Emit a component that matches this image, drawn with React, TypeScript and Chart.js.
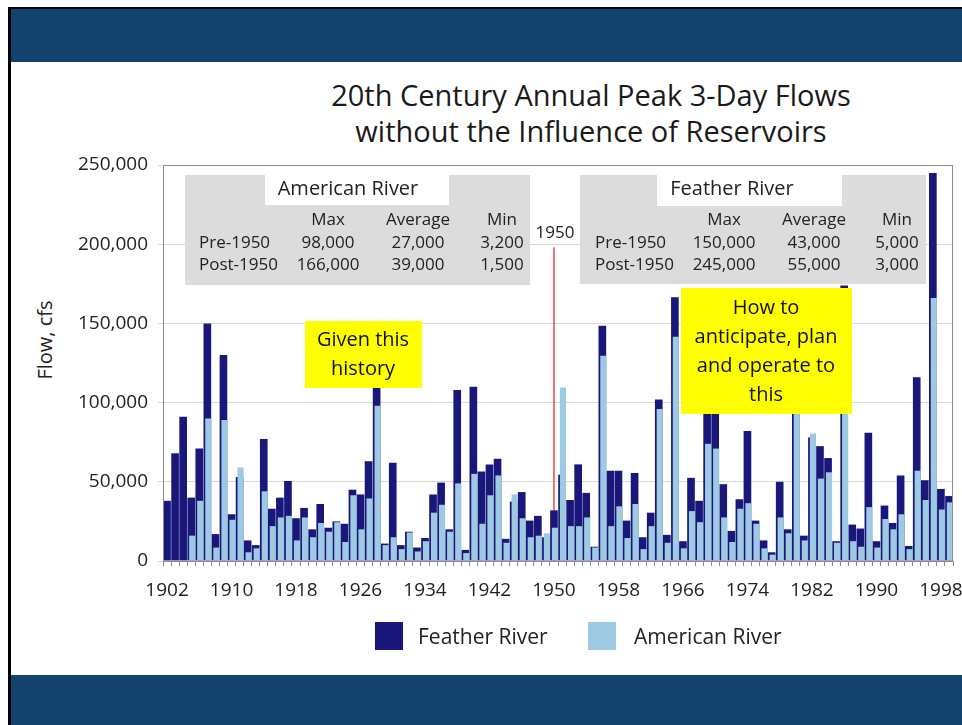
import React, { useEffect, useRef } from "react";
import { Chart, registerables } from "chart.js";

Chart.register(...registerables);

// Water years 1902–1999, one bar slot per year
const years: string[] = Array.from({ length: 98 }, (_, i) => String(1902 + i));

// Annual peak 3-day flows (cfs), unregulated
const featherFlow: number[] = [
  38000, 68000, 91000, 40000, 71000, 150000, 17000, 130000, 29500, 53000,
  13000, 10000, 77000, 33000, 40000, 50500, 27000, 33500, 20000, 36000,
  21000, 25000, 23500, 45000, 42000, 63000, 112000, 11000, 62000, 10000,
  18500, 8500, 14500, 42000, 49500, 20000, 108000, 7000, 110000, 56500,
  61000, 64500, 14000, 37500, 43500, 25500, 28500, 15000, 32000, 54500,
  38500, 61000, 43000, 9000, 148500, 57000, 57000, 25500, 55500, 15000,
  30500, 102000, 16500, 166500, 12500, 52500, 38000, 110000, 118000, 48500,
  19000, 39000, 82000, 25500, 13000, 5500, 50000, 20000, 115000, 16000,
  78000, 72500, 65000, 12500, 174000, 23000, 20500, 81000, 12500, 35000,
  24000, 54000, 9500, 116000, 51000, 245000, 45500, 41000,
];

const americanFlow: (number | null)[] = [
  null, null, null, 16000, 38000, 90000, 8500, 89000, 26000, 59000,
  5500, 8000, 44000, 22000, 27500, 28500, 13000, 27500, 15000, 24000,
  18500, 24500, 12000, 41500, 20000, 39500, 98000, 10000, 15000, 7500,
  18000, 6000, 12500, 30500, 35500, 18500, 49000, 5000, 55000, 23500,
  41500, 54000, 11500, 42000, 27000, 15000, 16000, 17500, 21000, 109500,
  22000, 22000, 27500, 8500, 129500, 22000, 34500, 14500, 36000, 7500,
  22000, 96000, 11500, 141500, 8000, 31500, 24500, 74000, 71000, 27500,
  12000, 33000, 36500, 23500, 8000, 4000, 27500, 17500, 100000, 13000,
  80500, 52000, 56000, 11500, 125000, 12500, 9000, 34000, 8500, 26500,
  20000, 29500, 7500, 57000, 38500, 166000, 32500, 37000,
];

const yTicks: number[] = [0, 50000, 100000, 150000, 200000, 250000];
const labelEvery = 8;

// Marker for the 1950 split
const markerYear = "1950";
const markerTop = 198000;

// Summary statistics shown in the two tables
const statHeaders: string[] = ["Max", "Average", "Min"];
const periodLabels: string[] = ["Pre-1950", "Post-1950"];
const americanPre: string[] = ["98,000", "27,000", "3,200"];
const americanPost: string[] = ["166,000", "39,000", "1,500"];
const featherPre: string[] = ["150,000", "43,000", "5,000"];
const featherPost: string[] = ["245,000", "55,000", "3,000"];

const noteLeft: string[] = ["Given this", "history"];
const noteRight: string[] = ["How to", "anticipate, plan", "and operate to", "this"];

const FONT = '"Open Sans", "DejaVu Sans", sans-serif';
const FEATHER = "#19187a";
const AMERICAN = "#9dc9e3";
const GRID = "#d9d9d9";
const FRAME = "#8c8c8c";
const TEXT = "#222222";
const BAND = "#12436f";
const LIGHT_SHIFT = 0.12;

type Table = {
  title: string;
  box: [number, number, number, number];
  titleBox: [number, number, number, number];
  titleX: number;
  rowX: number;
  colX: number[];
  pre: string[];
  post: string[];
};

const tables: Table[] = [
  {
    title: "American River",
    box: [22, 10, 345, 110],
    titleBox: [102, 10, 184, 30],
    titleX: 185,
    rowX: 36,
    colX: [165, 255, 339],
    pre: americanPre,
    post: americanPost,
  },
  {
    title: "Feather River",
    box: [417, 10, 346, 109],
    titleBox: [494, 10, 185, 31],
    titleX: 569,
    rowX: 432,
    colX: [561, 651, 734],
    pre: featherPre,
    post: featherPost,
  },
];

const notes = [
  { lines: noteLeft, box: [142, 156, 117, 67], cx: 200, y0: 175 },
  { lines: noteRight, box: [518, 123, 171, 126], cx: 603, y0: 143 },
];

const overlayPlugin = {
  id: "overlays",
  afterDatasetsDraw(chart: any) {
    const { ctx, chartArea: a, scales } = chart;
    ctx.save();

    // plot frame
    ctx.strokeStyle = FRAME;
    ctx.lineWidth = 1;
    ctx.strokeRect(Math.round(a.left) + 0.5, Math.round(a.top) + 0.5, Math.round(a.width) - 1, Math.round(a.height));

    // 1950 label above the divider line
    const mx = scales.x.getPixelForValue(years.indexOf(markerYear));
    const my = scales.y.getPixelForValue(markerTop);
    ctx.fillStyle = TEXT;
    ctx.font = `17px ${FONT}`;
    ctx.textAlign = "center";
    ctx.textBaseline = "middle";
    ctx.fillText(markerYear, mx + 1, my - 14);

    // summary tables
    for (const t of tables) {
      ctx.fillStyle = "#dcdcdc";
      ctx.fillRect(a.left + t.box[0], a.top + t.box[1], t.box[2], t.box[3]);
      ctx.fillStyle = "#ffffff";
      ctx.fillRect(a.left + t.titleBox[0], a.top + t.titleBox[1], t.titleBox[2], t.titleBox[3]);
      ctx.fillStyle = TEXT;
      ctx.textBaseline = "middle";
      ctx.textAlign = "center";
      ctx.font = `20px ${FONT}`;
      ctx.fillText(t.title, a.left + t.titleX, a.top + 24);
      ctx.font = `17px ${FONT}`;
      statHeaders.forEach((h, i) => ctx.fillText(h, a.left + t.colX[i], a.top + 55));
      t.pre.forEach((v, i) => ctx.fillText(v, a.left + t.colX[i], a.top + 78));
      t.post.forEach((v, i) => ctx.fillText(v, a.left + t.colX[i], a.top + 100));
      ctx.textAlign = "left";
      ctx.fillText(periodLabels[0], a.left + t.rowX, a.top + 78);
      ctx.fillText(periodLabels[1], a.left + t.rowX, a.top + 100);
    }

    // yellow call-outs
    for (const n of notes) {
      ctx.fillStyle = "#ffff00";
      ctx.fillRect(a.left + n.box[0], a.top + n.box[1], n.box[2], n.box[3]);
      ctx.fillStyle = "#111111";
      ctx.font = `20px ${FONT}`;
      ctx.textAlign = "center";
      ctx.textBaseline = "middle";
      n.lines.forEach((line, i) => ctx.fillText(line, a.left + n.cx, a.top + n.y0 + i * 29));
    }
    ctx.restore();
  },
};

function FlowChart() {
  const canvasRef = useRef<HTMLCanvasElement | null>(null);

  useEffect(() => {
    if (!canvasRef.current) return;
    const chart = new Chart(canvasRef.current, {
      type: "bar",
      data: {
        labels: years,
        datasets: [
          {
            type: "line",
            label: "1950",
            data: [
              { x: markerYear, y: markerTop },
              { x: markerYear, y: 0 },
            ] as any,
            xAxisID: "x",
            borderColor: "#e8474a",
            borderWidth: 1.5,
            pointRadius: 0,
            order: 3,
          },
          {
            type: "bar",
            label: "Feather River",
            data: featherFlow,
            xAxisID: "x",
            backgroundColor: FEATHER,
            barPercentage: 0.95,
            categoryPercentage: 1,
            grouped: false,
            order: 2,
          },
          {
            type: "bar",
            label: "American River",
            data: americanFlow.map((v, i) => ({ x: 1902 + i, y: v })) as any,
            xAxisID: "x2",
            backgroundColor: AMERICAN,
            barPercentage: 0.76,
            categoryPercentage: 1,
            grouped: false,
            order: 1,
          },
        ],
      },
      options: {
        responsive: false,
        animation: false,
        devicePixelRatio: 1,
        layout: { padding: { top: 103, right: 5, bottom: 74, left: 0 } },
        plugins: {
          legend: { display: false },
          title: { display: false },
          tooltip: { enabled: false },
        },
        scales: {
          x: {
            type: "category",
            offset: true,
            grid: {
              offset: true,
              drawOnChartArea: false,
              drawTicks: true,
              tickLength: 5,
              color: FRAME,
            },
            border: { display: false },
            ticks: {
              autoSkip: false,
              maxRotation: 0,
              minRotation: 0,
              padding: 13,
              color: TEXT,
              font: { size: 19, family: FONT },
              callback: (_v: any, index: number) => (index % labelEvery === 0 ? years[index] : ""),
            },
            afterFit: (s: any) => {
              s.height = 40;
            },
          },
          x2: {
            type: "linear",
            display: false,
            offset: false,
            min: 1901.5 - LIGHT_SHIFT,
            max: 1999.5 - LIGHT_SHIFT,
            grid: { display: false },
          },
          y: {
            min: yTicks[0],
            max: yTicks[yTicks.length - 1],
            afterBuildTicks: (s: any) => {
              s.ticks = yTicks.map((v) => ({ value: v }));
            },
            ticks: {
              padding: 10,
              color: TEXT,
              font: { size: 19, family: FONT },
              callback: (v: any) => Number(v).toLocaleString("en-US"),
            },
            grid: { color: GRID, tickLength: 5, drawTicks: true },
            border: { display: false },
            afterFit: (s: any) => {
              s.width = 152;
            },
          },
        },
      },
      plugins: [overlayPlugin],
    });
    return () => chart.destroy();
  }, []);

  return (
    <canvas
      ref={canvasRef}
      width={951}
      height={613}
      style={{ position: "absolute", left: 0, top: 53, width: 951, height: 613 }}
    />
  );
}

export default function App() {
  return (
    <div
      style={{
        position: "fixed",
        left: 8,
        top: 7,
        width: 954,
        height: 718,
        boxSizing: "border-box",
        borderLeft: "3px solid #000",
        borderTop: "2px solid #000",
        background: "#ffffff",
        overflow: "hidden",
        fontFamily: FONT,
        color: TEXT,
      }}
    >
      <div style={{ position: "absolute", left: 0, top: 0, width: "100%", height: 53, background: BAND }} />
      <div
        style={{
          position: "absolute",
          left: 280,
          top: 68,
          width: 600,
          textAlign: "center",
          fontSize: 29,
          lineHeight: "36px",
          color: "#1a1a1a",
        }}
      >
        <div>20th Century Annual Peak 3-Day Flows</div>
        <div>without the Influence of Reservoirs</div>
      </div>
      <div
        style={{
          position: "absolute",
          left: 34,
          top: 331,
          transform: "translate(-50%, -50%) rotate(-90deg)",
          whiteSpace: "nowrap",
          fontSize: 20,
          lineHeight: "24px",
        }}
      >
        Flow, cfs
      </div>
      <FlowChart />
      <div style={{ position: "absolute", left: 364, top: 613, width: 28, height: 28, background: FEATHER }} />
      <div style={{ position: "absolute", left: 407, top: 612, fontSize: 21, lineHeight: "30px", whiteSpace: "nowrap" }}>
        Feather River
      </div>
      <div style={{ position: "absolute", left: 577, top: 613, width: 28, height: 28, background: AMERICAN }} />
      <div style={{ position: "absolute", left: 623, top: 612, fontSize: 21, lineHeight: "30px", whiteSpace: "nowrap" }}>
        American River
      </div>
      <div style={{ position: "absolute", left: 0, top: 666, width: "100%", height: 60, background: BAND }} />
    </div>
  );
}
